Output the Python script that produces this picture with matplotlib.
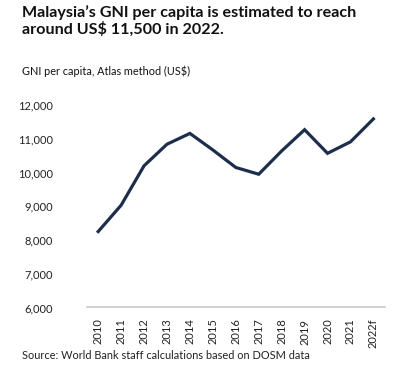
import matplotlib
matplotlib.use("Agg")
import matplotlib.pyplot as plt

years = ["2010", "2011", "2012", "2013", "2014", "2015", "2016", "2017",
         "2018", "2019", "2020", "2021", "2022f"]
gni = [8250, 9030, 10200, 10840, 11160, 10670, 10150, 9950,
       10640, 11270, 10570, 10910, 11590]
yticks = [6000, 7000, 8000, 9000, 10000, 11000, 12000]

plt.rcParams['font.family'] = ['Lato', 'DejaVu Sans']

fig = plt.figure(figsize=(4.09, 3.74), dpi=100)
ax = fig.add_axes([0.212, 0.178, 0.729, 0.541])

x = list(range(len(years)))
ax.plot(x, gni, color="#1c2e4a", lw=2.3, solid_joinstyle="miter", clip_on=False)

ax.set_xlim(-0.5, len(years) - 0.5)
ax.set_ylim(6000, 12000)
ax.set_yticks(yticks)
ax.set_yticklabels([f"{v:,}" for v in yticks], fontsize=8, color="#222222")
ax.set_xticks(x)
ax.set_xticklabels(years, rotation=90, fontsize=8, color="#222222")
ax.tick_params(axis="both", length=0)
ax.tick_params(axis="y", pad=24)
ax.tick_params(axis="x", pad=8)
for s in ["top", "right", "left"]:
    ax.spines[s].set_visible(False)
ax.spines["bottom"].set_color("#c8c8c8")
ax.spines["bottom"].set_linewidth(1.2)

fig.text(0.054, 0.985, "Malaysia\u2019s GNI per capita is estimated to reach\naround US$ 11,500 in 2022.",
         fontsize=11.6, fontweight="bold", va="top", ha="left", color="#111111", linespacing=1.1)
fig.text(0.054, 0.81, "GNI per capita, Atlas method (US$)", fontsize=7.8, va="center",
         ha="left", color="#111111")
fig.text(0.054, 0.05, "Source: World Bank staff calculations based on DOSM data", fontsize=7.9,
         va="center", ha="left", color="#222222")

fig.savefig("out.png", dpi=100)
